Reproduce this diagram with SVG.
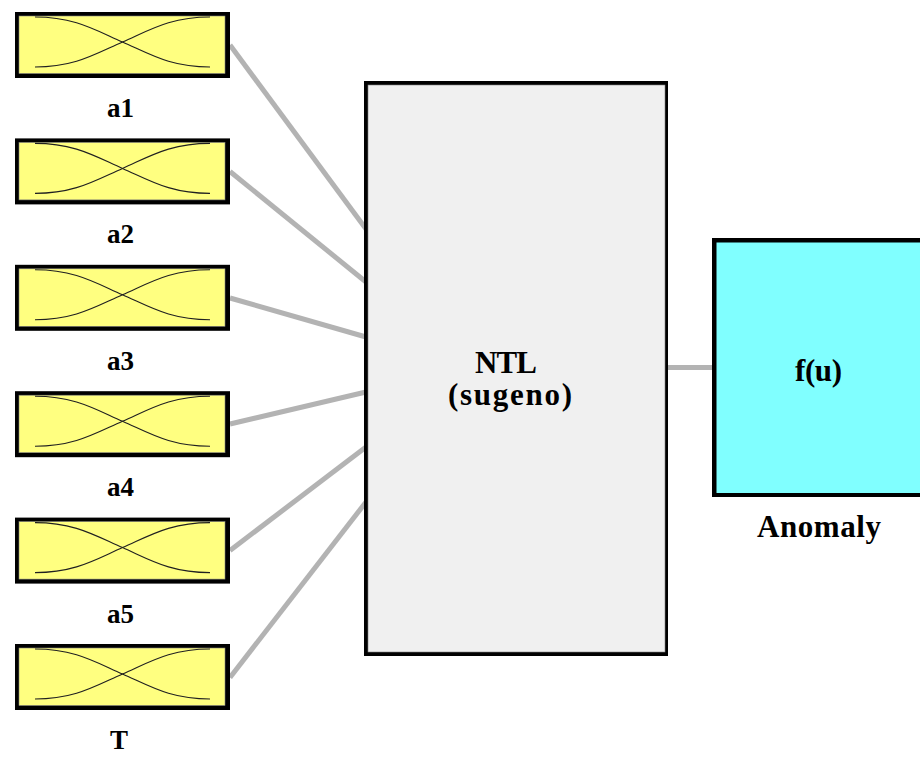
<svg xmlns="http://www.w3.org/2000/svg" width="920" height="758" viewBox="0 0 920 758">
<style>
.lbl{font-family:"Liberation Serif","Times New Roman",serif;font-weight:bold;fill:#000;text-anchor:middle}
.in{font-size:27px}
.big{font-size:31px}
.conn{stroke:#b3b3b3;stroke-width:5;fill:none}
.frame{fill:#000}
.yel{fill:#ffff80;stroke:#808080;stroke-width:0.6}
.mf{fill:none;stroke:#202020;stroke-width:1.1}
</style>
<defs>
<g id="inbox">
<rect class="frame" x="0" y="0" width="215" height="66"/>
<rect class="yel" x="4" y="4" width="206" height="57.5"/>
<path class="mf" d="M20,5 C60,5 80,18 107.5,30 C135,42 155,55 195,55"/>
<path class="mf" d="M20,55 C60,55 80,42 107.5,30 C135,18 155,5 195,5"/>
</g>
</defs>
<rect width="920" height="758" fill="#fff"/>
<g id="connectors">
<line class="conn" x1="230" y1="45" x2="366" y2="229"/>
<line class="conn" x1="230" y1="171.5" x2="366" y2="282"/>
<line class="conn" x1="230" y1="298" x2="366" y2="337"/>
<line class="conn" x1="230" y1="424" x2="366" y2="392"/>
<line class="conn" x1="230" y1="550.5" x2="366" y2="447"/>
<line class="conn" x1="230" y1="677.5" x2="366" y2="502"/>
<line class="conn" x1="668" y1="367.5" x2="712" y2="367.5" stroke-width="6"/>
</g>
<g id="a1"><use href="#inbox" x="15" y="12"/><text class="lbl in" x="120.5" y="117">a1</text></g>
<g id="a2"><use href="#inbox" x="15" y="138.4"/><text class="lbl in" x="120.5" y="243.4">a2</text></g>
<g id="a3"><use href="#inbox" x="15" y="264.8"/><text class="lbl in" x="120.5" y="369.8">a3</text></g>
<g id="a4"><use href="#inbox" x="15" y="391.2"/><text class="lbl in" x="120.5" y="496.2">a4</text></g>
<g id="a5"><use href="#inbox" x="15" y="517.6"/><text class="lbl in" x="120.5" y="622.6">a5</text></g>
<g id="T"><use href="#inbox" x="15" y="644"/><text class="lbl in" x="119" y="749">T</text></g>
<g id="ntl">
<rect class="frame" x="364" y="81" width="304" height="575"/>
<rect x="368" y="85" width="297" height="567" fill="#f0f0f0" stroke="#808080" stroke-width="0.6"/>
<text class="lbl big" x="506" y="373" textLength="62">NTL</text>
<text class="lbl big" x="510" y="405" textLength="124">(sugeno)</text>
</g>
<g id="anomaly">
<rect class="frame" x="712" y="238" width="220" height="259"/>
<rect x="716.5" y="242.5" width="220" height="250.5" fill="#80ffff"/>
<text class="lbl big" x="818.5" y="381" textLength="47">f(u)</text>
<text class="lbl big" x="819" y="537" textLength="124">Anomaly</text>
</g>
</svg>
